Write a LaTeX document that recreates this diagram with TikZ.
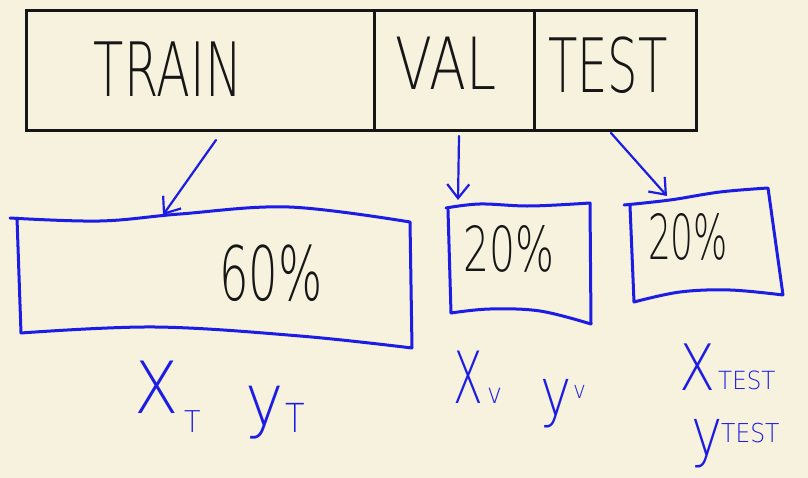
\documentclass[tikz,border=0pt]{standalone}
\usepackage{fontspec}
\setmainfont{DejaVu Sans}
\newfontfamily\handfont{DejaVu Sans ExtraLight}
\usetikzlibrary{arrows.meta}
\definecolor{paper}{RGB}{246,242,222}
\definecolor{ink}{RGB}{22,22,22}
\definecolor{pen}{RGB}{28,28,228}
\newcommand\hw[3]{\scalebox{#1}[1]{\handfont\fontsize{#2}{#2}\selectfont #3}}
\tikzset{
  barbox/.style={draw=ink, line width=2.6pt, minimum height=120pt, anchor=north west, inner sep=0pt},
  inktext/.style={text=ink, inner sep=0pt, anchor=base},
  pentext/.style={text=pen, inner sep=0pt, anchor=base west},
  bluebox/.style={draw=pen, line width=3pt, line join=round, line cap=round},
  penarrow/.style={draw=pen, line width=2.2pt, line cap=round, -{Straight Barb[length=14pt,width=22pt,line width=2.2pt]}}
}
\begin{document}
\begin{tikzpicture}[x=1pt,y=-1pt]
\fill[paper] (0,0) rectangle (808,478);
\useasboundingbox (0,0) rectangle (808,478);
% top bar
\node[barbox, minimum width=348pt] (train) at (25,9) {};
\node[barbox, minimum width=160pt] (val) at (373,9) {};
\node[barbox, minimum width=162pt] (test) at (533,9) {};
\node[inktext] (traintxt) at (168,97) {\hw{0.66}{75}{TRAIN}};
\node[inktext] (valtxt) at (446,90) {\hw{0.75}{72}{VAL}};
\node[inktext] (testtxt) at (608,93) {\hw{0.64}{75}{TEST}};
% blue boxes
\draw[bluebox] plot[smooth, tension=0.6] coordinates {(10,218) (100,221) (180,214) (289,207) (410,222)}
  -- (412,348) plot[smooth, tension=0.6] coordinates {(412,348) (300,336) (155,327) (21,333)} -- (17,218);
\draw[bluebox] plot[smooth, tension=0.6] coordinates {(446,208) (480,204) (530,206) (590,203)}
  -- (591,324) plot[smooth, tension=0.6] coordinates {(591,324) (540,311) (490,309) (451,313)} -- (448,210);
\draw[bluebox] plot[smooth, tension=0.6] coordinates {(624,205) (670,200) (720,192) (768,188)}
  -- (783,295) plot[smooth, tension=0.6] coordinates {(783,295) (730,290) (680,292) (634,302)} -- (630,206);
\coordinate (box1top) at (163,215);
\coordinate (box2top) at (458,200);
\coordinate (box3top) at (667,196);
\node[inktext] (p60) at (271,300) {\hw{0.62}{75}{60\%}};
\node[inktext] (p20a) at (509,272) {\hw{0.66}{62}{20\%}};
\node[inktext] (p20b) at (688,259) {\hw{0.58}{62}{20\%}};
% arrows
\coordinate (a1) at (216,140);
\coordinate (a2) at (459,136);
\coordinate (a3) at (611,133);
\draw[penarrow] (a1) -- (box1top);
\draw[penarrow] (a2) -- (box2top);
\draw[penarrow] (a3) -- (box3top);
% labels
\node[pentext] (xt) at (134,413) {\hw{0.9}{72}{X}};
\node[pentext] (xtsub) at (184,432) {\hw{0.9}{30}{T}};
\node[pentext] (yt) at (245,425) {\hw{0.9}{72}{y}};
\node[pentext] (ytsub) at (285,432) {\hw{0.8}{40}{T}};
\node[pentext] (xv) at (453,403) {\hw{0.6}{72}{X}};
\node[pentext] (xvsub) at (487,403) {\hw{0.9}{28}{v}};
\node[pentext] (yv) at (540,415) {\hw{0.8}{66}{y}};
\node[pentext] (yvsub) at (573,398) {\hw{0.9}{24}{v}};
\node[pentext] (xtest) at (679,390) {\hw{0.82}{64}{X}};
\node[pentext] (xtestsub) at (718,389) {\hw{0.92}{25}{TEST}};
\node[pentext] (ytest) at (691,455) {\hw{0.8}{66}{y}};
\node[pentext] (ytestsub) at (721,442) {\hw{0.9}{26}{TEST}};
\end{tikzpicture}
\end{document}
